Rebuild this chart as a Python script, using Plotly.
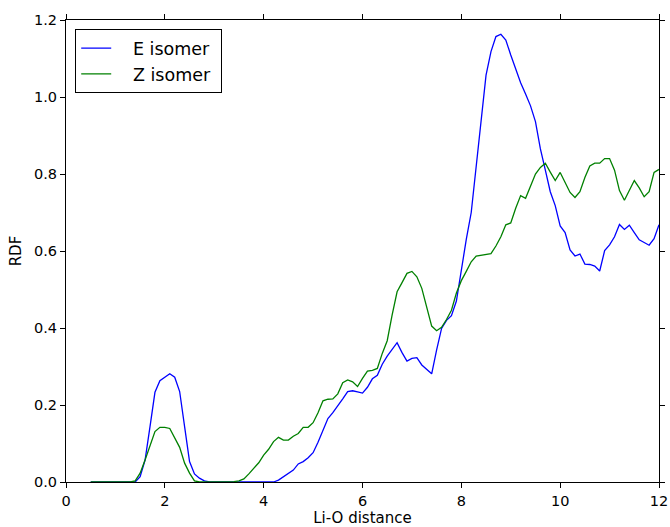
import plotly.graph_objects as go

# Li-O distance grid (sampling every 0.1 from 0.5 to 12.0)
distance = [round(0.5 + 0.1 * i, 1) for i in range(116)]

e_isomer = [
    0, 0, 0, 0, 0, 0, 0, 0, 0,                      # 0.5 - 1.3
    0.0, 0.014, 0.057, 0.144, 0.233, 0.263, 0.272, 0.281, 0.272, 0.235,
    0.144, 0.053, 0.021, 0.010, 0.003, 0.0,          # 1.4 - 2.9
    0, 0, 0, 0, 0, 0, 0, 0, 0, 0, 0, 0, 0,          # 3.0 - 4.2
    0.005, 0.013, 0.021, 0.031, 0.047, 0.053, 0.063, 0.076, 0.103, 0.133,   # 4.3 - 5.2
    0.165, 0.180, 0.197, 0.216, 0.235, 0.237, 0.234, 0.231, 0.246, 0.268,   # 5.3 - 6.2
    0.277, 0.306, 0.327, 0.343, 0.362, 0.336, 0.314, 0.321, 0.323, 0.304,   # 6.3 - 7.2
    0.292, 0.281, 0.343, 0.399, 0.420, 0.432, 0.470, 0.555, 0.630, 0.700,   # 7.3 - 8.2
    0.819, 0.940, 1.057, 1.118, 1.157, 1.163, 1.148, 1.109, 1.074, 1.037,   # 8.3 - 9.2
    1.008, 0.977, 0.936, 0.865, 0.810, 0.754, 0.718, 0.665, 0.648, 0.603,   # 9.3 - 10.2
    0.587, 0.592, 0.566, 0.565, 0.561, 0.548, 0.601, 0.616, 0.637, 0.669,   # 10.3 - 11.2
    0.656, 0.667, 0.648, 0.629, 0.622, 0.615, 0.632, 0.668,                 # 11.3 - 12.0
]

z_isomer = [
    0, 0, 0, 0, 0, 0, 0, 0, 0,                      # 0.5 - 1.3
    0.003, 0.023, 0.057, 0.096, 0.131, 0.142, 0.142, 0.139, 0.116, 0.090,
    0.049, 0.023, 0.003,                             # 1.4 - 2.6
    0, 0, 0, 0, 0, 0, 0,                             # 2.7 - 3.3
    0.001, 0.003, 0.008, 0.021, 0.036, 0.050, 0.070, 0.085, 0.105, 0.116,   # 3.4 - 4.3
    0.109, 0.109, 0.119, 0.126, 0.142, 0.142, 0.154, 0.180, 0.211, 0.215,   # 4.4 - 5.3
    0.216, 0.229, 0.258, 0.265, 0.260, 0.248, 0.269, 0.288, 0.290, 0.295,   # 5.4 - 6.3
    0.334, 0.367, 0.434, 0.494, 0.518, 0.542, 0.547, 0.533, 0.503, 0.457,   # 6.4 - 7.3
    0.405, 0.393, 0.402, 0.422, 0.446, 0.491, 0.523, 0.547, 0.572, 0.587,   # 7.4 - 8.3
    0.589, 0.591, 0.593, 0.613, 0.637, 0.668, 0.673, 0.711, 0.744, 0.737,   # 8.4 - 9.3
    0.767, 0.800, 0.817, 0.828, 0.805, 0.783, 0.804, 0.780, 0.752, 0.739,   # 9.4 - 10.3
    0.754, 0.791, 0.821, 0.828, 0.828, 0.840, 0.840, 0.810, 0.757, 0.732,   # 10.4 - 11.3
    0.757, 0.783, 0.764, 0.741, 0.754, 0.804, 0.812,                        # 11.4 - 12.0
]

x_ticks = [0, 2, 4, 6, 8, 10, 12]
y_ticks = [0.0, 0.2, 0.4, 0.6, 0.8, 1.0, 1.2]
series_names = ["E isomer", "Z isomer"]

FONT = "DejaVu Sans"
PAD = "\u00a0\u00a0\u00a0"
TAIL = "\u00a0"

fig = go.Figure()
fig.add_trace(go.Scatter(x=distance, y=e_isomer, mode="lines", name=PAD + series_names[0] + TAIL,
                         line=dict(color="#0000ff", width=1.3)))
fig.add_trace(go.Scatter(x=distance, y=z_isomer, mode="lines", name=PAD + series_names[1] + TAIL,
                         line=dict(color="#008000", width=1.3)))

axis_common = dict(
    showline=True, linecolor="black", linewidth=1.2, mirror="allticks",
    ticks="outside", ticklen=5, tickwidth=1, tickcolor="black",
    showgrid=False, zeroline=False, automargin=False,
    tickfont=dict(family=FONT, size=14.5, color="black"),
)

fig.update_xaxes(range=[0, 12], tickvals=x_ticks, ticktext=[str(v) for v in x_ticks],
                 title=dict(text="Li-O distance", font=dict(family=FONT, size=15, color="black"),
                            standoff=4),
                 **axis_common)
fig.update_yaxes(range=[0, 1.2], tickvals=y_ticks, ticktext=[f"{v:.1f}" for v in y_ticks],
                 title=dict(text="RDF", font=dict(family=FONT, size=15, color="black"),
                            standoff=8),
                 **axis_common)

fig.update_layout(
    width=670, height=527,
    margin=dict(l=66, r=11, t=20, b=45),
    paper_bgcolor="white", plot_bgcolor="white",
    font=dict(family=FONT, color="black"),
    showlegend=True,
    legend=dict(
        x=0.0152, y=0.9805, xanchor="left", yanchor="top",
        bordercolor="black", borderwidth=1.2, bgcolor="white",
        font=dict(family=FONT, size=17.5, color="black"),
        itemwidth=30, tracegroupgap=0,
    ),
)

fig.write_html("out.html")
